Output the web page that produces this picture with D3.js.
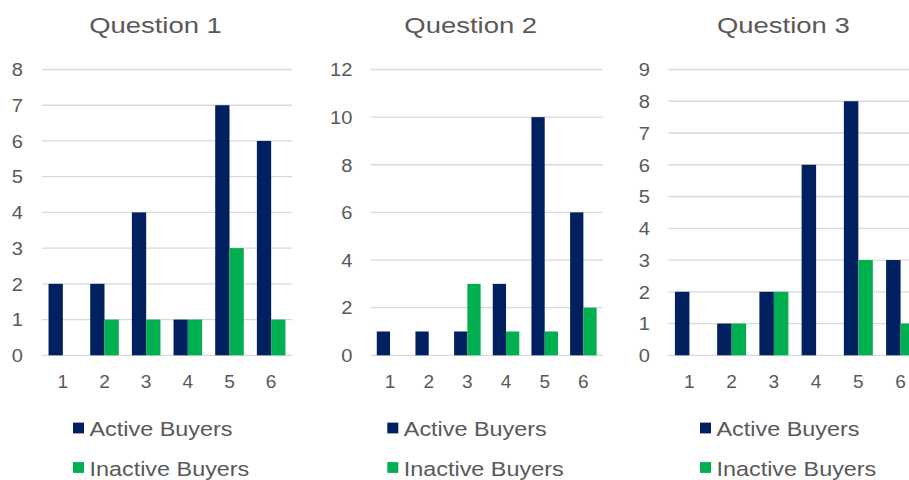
<!DOCTYPE html>
<html>
<head>
<meta charset="utf-8">
<script src="https://cdn.jsdelivr.net/npm/d3@7"></script>
<style>
  html, body { margin: 0; padding: 0; background: #fff; }
  svg { display: block; font-family: "Liberation Sans", Arial, sans-serif; }
</style>
</head>
<body>
<svg id="chart" width="909" height="480"></svg>
<script>
// Survey answers (1–6) counted for active and inactive buyers, per question
const categories = ["1", "2", "3", "4", "5", "6"];
const seriesNames = ["Active Buyers", "Inactive Buyers"];
const seriesColors = ["#002060", "#00B050"];

const questionTitles = ["Question 1", "Question 2", "Question 3"];

const q1Active   = [2, 2, 4, 1, 7, 6];
const q1Inactive = [0, 1, 1, 1, 3, 1];
const q2Active   = [1, 1, 1, 3, 10, 6];
const q2Inactive = [0, 0, 3, 1, 1, 2];
const q3Active   = [2, 1, 2, 6, 8, 3];
const q3Inactive = [0, 1, 2, 0, 3, 1];

const yMaxes  = [8, 12, 9];
const yTicks1 = [0, 1, 2, 3, 4, 5, 6, 7, 8];
const yTicks2 = [0, 2, 4, 6, 8, 10, 12];
const yTicks3 = [0, 1, 2, 3, 4, 5, 6, 7, 8, 9];

// Panel geometry
const panels = [
  { title: questionTitles[0], series: [q1Active, q1Inactive], yMax: yMaxes[0], ticks: yTicks1,
    x0: 42, x1: 292, labelX: 23, titleX: 155.5, legX: 73 },
  { title: questionTitles[1], series: [q2Active, q2Inactive], yMax: yMaxes[1], ticks: yTicks2,
    x0: 370.7, x1: 602.7, labelX: 352.5, titleX: 470.7, legX: 387.3 },
  { title: questionTitles[2], series: [q3Active, q3Inactive], yMax: yMaxes[2], ticks: yTicks3,
    x0: 668.3, x1: 921.7, labelX: 650, titleX: 783.3, legX: 700 }
];

const plotTop = 69.5, plotBottom = 355.3;
const textColor = "#595959";
const gridColor = "#d9d9d9";
const stretch = 1.2; // horizontal widening of glyphs

const svg = d3.select("#chart");

function stretchedText(g, x, y, str, size, anchor, sx) {
  return g.append("text")
    .attr("transform", `translate(${x},${y}) scale(${sx},1)`)
    .attr("text-anchor", anchor)
    .attr("font-size", size)
    .attr("fill", textColor)
    .text(str);
}

panels.forEach(p => {
  const g = svg.append("g");

  const x = d3.scaleBand().domain(categories).range([p.x0, p.x1])
    .paddingInner(0.314).paddingOuter(0.157);
  const xSub = d3.scaleBand().domain(seriesNames).range([0, x.bandwidth()]);
  const y = d3.scaleLinear().domain([0, p.yMax]).range([plotBottom, plotTop]);

  // title
  stretchedText(g, p.titleX, 32.7, p.title, 22.5, "middle", 1.22);

  // gridlines
  g.selectAll("line.grid").data(p.ticks).join("line")
    .attr("class", "grid")
    .attr("x1", p.x0).attr("x2", p.x1)
    .attr("y1", d => y(d)).attr("y2", d => y(d))
    .attr("stroke", gridColor).attr("stroke-width", 1.3);

  // y tick labels
  p.ticks.forEach(t => {
    stretchedText(g, p.labelX, y(t) + 6.8, String(t), 19, "end", 1.06);
  });

  // bars
  seriesNames.forEach((name, si) => {
    g.selectAll(null).data(p.series[si]).join("rect")
      .attr("x", (d, i) => x(categories[i]) + xSub(name))
      .attr("width", xSub.bandwidth())
      .attr("y", d => y(d))
      .attr("height", d => y(0) - y(d))
      .attr("fill", seriesColors[si]);
  });

  // x tick labels
  categories.forEach(c => {
    stretchedText(g, x(c) + x.bandwidth() / 2, 387.5, c, 18, "middle", 1.06);
  });

  // legend
  const rows = [428, 467.5];
  seriesNames.forEach((name, si) => {
    g.append("rect")
      .attr("x", p.legX).attr("y", rows[si] - 5.4)
      .attr("width", 11).attr("height", 10.8)
      .attr("fill", seriesColors[si]);
    stretchedText(g, p.legX + 16.5, rows[si] + 8.2, name, 19.5, "start", stretch);
  });
});
</script>
</body>
</html>
